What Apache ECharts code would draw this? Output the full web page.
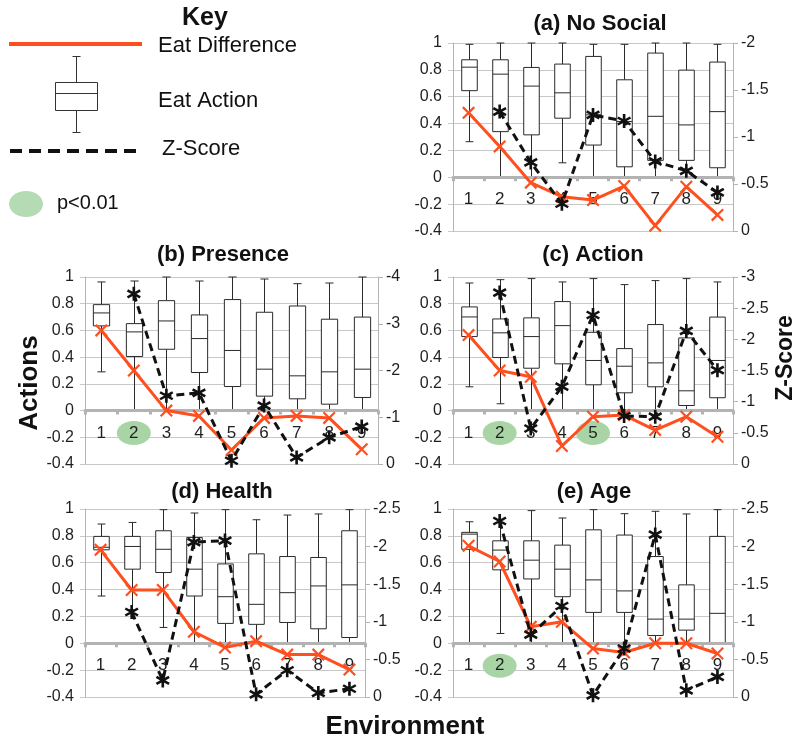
<!DOCTYPE html>
<html>
<head>
<meta charset="utf-8">
<script src="https://cdn.jsdelivr.net/npm/echarts@6/dist/echarts.min.js"></script>
<style>
  html, body { margin: 0; padding: 0; background: #fff; }
  #chart { width: 796px; height: 745px; }
</style>
</head>
<body>
<div id="chart"></div>
<script>
// Environments 1..9 on every panel
const categories = ['1', '2', '3', '4', '5', '6', '7', '8', '9'];

// Eat Action box plots: [min, Q1, median, Q3, max] per environment
const boxNoSocial = [
  [0.265, 0.645, 0.82, 0.875, 0.99], [0, 0.34, 0.768, 0.875, 1], [0, 0.316, 0.679, 0.818, 1],
  [0.108, 0.44, 0.629, 0.843, 1], [0, 0.24, 0.465, 0.90, 0.99], [0, 0.078, 0.415, 0.726, 0.99],
  [0, 0.126, 0.454, 0.925, 1], [0, 0.126, 0.39, 0.798, 1], [0, 0.071, 0.489, 0.858, 0.99]
];
const boxPresence = [
  [0.29, 0.634, 0.731, 0.793, 0.963], [0, 0.405, 0.589, 0.651, 0.97], [0, 0.459, 0.671, 0.823, 1],
  [0, 0.285, 0.539, 0.716, 0.97], [0, 0.18, 0.45, 0.831, 1], [0, 0.108, 0.31, 0.736, 0.985],
  [0, 0.088, 0.26, 0.783, 0.95], [0, 0.048, 0.29, 0.684, 0.955], [0, 0.098, 0.31, 0.70, 1]
];
const boxAction = [
  [0.178, 0.554, 0.701, 0.776, 0.955], [0.051, 0.397, 0.582, 0.686, 0.98], [0, 0.317, 0.554, 0.694, 0.988],
  [0, 0.35, 0.636, 0.816, 0.963], [0, 0.193, 0.375, 0.586, 0.988], [0, 0.133, 0.332, 0.464, 0.943],
  [0, 0.178, 0.357, 0.644, 0.973], [0, 0.038, 0.148, 0.544, 0.988], [0, 0.096, 0.375, 0.70, 0.963]
];
const boxHealth = [
  [0.352, 0.696, 0.715, 0.796, 0.888], [0.25, 0.552, 0.721, 0.796, 0.90], [0.118, 0.527, 0.70, 0.838, 0.995],
  [0, 0.352, 0.552, 0.788, 0.97], [0, 0.148, 0.347, 0.591, 0.995], [0, 0.141, 0.29, 0.666, 0.92],
  [0, 0.155, 0.377, 0.646, 0.955], [0, 0.108, 0.427, 0.639, 0.963], [0, 0.043, 0.435, 0.838, 0.995]
];
const boxAge = [
  [0, 0.70, 0.813, 0.826, 0.905], [0.073, 0.547, 0.694, 0.763, 0.92], [0, 0.479, 0.619, 0.763, 0.988],
  [0, 0.347, 0.552, 0.731, 0.933], [0, 0.23, 0.472, 0.845, 0.995], [0, 0.23, 0.39, 0.806, 0.965],
  [0, 0.058, 0.18, 0.646, 0.983], [0, 0.098, 0.18, 0.435, 0.963], [0, 0.006, 0.223, 0.796, 0.995]
];

// Eat Difference (left axis)
const eatNoSocial = [0.48, 0.23, -0.04, -0.145, -0.17, -0.065, -0.36, -0.07, -0.28];
const eatPresence = [0.60, 0.30, 0.0, -0.04, -0.295, -0.055, -0.04, -0.055, -0.29];
const eatAction   = [0.565, 0.30, 0.253, -0.265, -0.046, -0.034, -0.146, -0.046, -0.196];
const eatHealth   = [0.696, 0.397, 0.397, 0.086, -0.031, 0.016, -0.084, -0.084, -0.196];
const eatAge      = [0.726, 0.609, 0.123, 0.16, -0.039, -0.069, 0, 0, -0.076];

// Z-Score (right axis, inverted); no value for environment 1
const zNoSocial = [null, -1.27, -0.73, -0.29, -1.235, -1.17, -0.74, -0.64, -0.41];
const zPresence = [null, -3.64, -1.46, -1.52, -0.07, -1.25, -0.14, -0.57, -0.80];
const zAction   = [null, -2.75, -0.57, -1.24, -2.39, -0.77, -0.76, -2.135, -1.505];
const zHealth   = [null, -1.13, -0.22, -2.06, -2.08, -0.036, -0.356, -0.054, -0.11];
const zAge      = [null, -2.34, -0.83, -1.21, -0.022, -0.645, -2.16, -0.089, -0.267];

// Environments with p<0.01
const sigNoSocial = [];
const sigPresence = ['2'];
const sigAction   = ['2', '5'];
const sigHealth   = [];
const sigAge      = ['2'];

// Axis ranges
const Y_MIN = -0.4, Y_MAX = 1, Y_STEP = 0.2;
const zMinNoSocial = -2, zStepNoSocial = 0.5;
const zMinPresence = -4, zStepPresence = 1;
const zMinAction = -3, zStepAction = 0.5;
const zMinHealth = -2.5, zStepHealth = 0.5;
const zMinAge = -2.5, zStepAge = 0.5;

const FONT = "'Liberation Sans', Arial, sans-serif";
const RED = '#ff4f1f';
const GREEN = '#a9d5a6';
const AXIS_GRAY = '#b3b3b3';
const TEXT = '#1f1f1f';

const X_PATH = 'path://M0,1.2L1.2,0L10,8.8L8.8,10Z M8.8,0L10,1.2L1.2,10L0,8.8Z';
const STAR_PATH = 'path://M4.1,0L5.9,0L5.9,10L4.1,10Z M0.22,3.28L1.12,1.72L9.78,6.72L8.88,8.28Z M1.12,8.28L0.22,6.72L8.88,1.72L9.78,3.28Z';

const panels = [
  { title: '(a) No Social', tx: 600, ty: 24, grid: { left: 453, top: 43, width: 280, height: 188 },
    box: boxNoSocial, eat: eatNoSocial, z: zNoSocial, sig: sigNoSocial, zMin: zMinNoSocial, zStep: zStepNoSocial },
  { title: '(b) Presence', tx: 223, ty: 255, grid: { left: 85, top: 277, width: 293, height: 187 },
    box: boxPresence, eat: eatPresence, z: zPresence, sig: sigPresence, zMin: zMinPresence, zStep: zStepPresence },
  { title: '(c) Action', tx: 593, ty: 255, grid: { left: 453, top: 277, width: 280, height: 187 },
    box: boxAction, eat: eatAction, z: zAction, sig: sigAction, zMin: zMinAction, zStep: zStepAction },
  { title: '(d) Health', tx: 222, ty: 492, grid: { left: 85, top: 509, width: 280, height: 188 },
    box: boxHealth, eat: eatHealth, z: zHealth, sig: sigHealth, zMin: zMinHealth, zStep: zStepHealth },
  { title: '(e) Age', tx: 594, ty: 492, grid: { left: 453, top: 509, width: 280, height: 188 },
    box: boxAge, eat: eatAge, z: zAge, sig: sigAge, zMin: zMinAge, zStep: zStepAge }
];

// Box-and-whisker glyph drawn through the axis scales
function renderBox(params, api) {
  const idx = api.value(0);
  const pMin = api.coord([idx, api.value(1)]);
  const pQ1 = api.coord([idx, api.value(2)]);
  const pMed = api.coord([idx, api.value(3)]);
  const pQ3 = api.coord([idx, api.value(4)]);
  const pMax = api.coord([idx, api.value(5)]);
  const band = api.size([1, 0])[0];
  const bw = band * 0.5, cw = band * 0.25;
  const cx = Math.round(pMin[0]) + 0.5;
  const st = { stroke: '#2a2a2a', lineWidth: 1 };
  const ln = (x1, y1, x2, y2) => ({ type: 'line', shape: { x1, y1, x2, y2 }, style: st });
  return {
    type: 'group',
    children: [
      ln(cx, pMax[1], cx, pQ3[1]),
      ln(cx, pQ1[1], cx, pMin[1]),
      ln(cx - cw / 2, pMax[1], cx + cw / 2, pMax[1]),
      ln(cx - cw / 2, pMin[1], cx + cw / 2, pMin[1]),
      { type: 'rect', shape: { x: cx - bw / 2, y: pQ3[1], width: bw, height: pQ1[1] - pQ3[1] },
        style: { fill: '#fff', stroke: '#2a2a2a', lineWidth: 1 } },
      ln(cx - bw / 2, pMed[1], cx + bw / 2, pMed[1])
    ]
  };
}

// Significance ellipse behind the environment label
const LABEL_MARGIN = 14, LABEL_SIZE = 17;
const LABEL_DROP = LABEL_MARGIN + LABEL_SIZE / 2;
function renderSig(params, api) {
  const p = api.coord([api.value(0), api.value(1)]);
  return {
    type: 'ellipse',
    shape: { cx: p[0], cy: p[1] + LABEL_DROP, rx: 17, ry: 12 },
    style: { fill: GREEN }
  };
}

const grids = [], xAxes = [], yAxes = [], series = [];
panels.forEach((p, i) => {
  grids.push(Object.assign({}, p.grid));
  // category axis sits on the zero line of the left value axis
  const zeroLift = p.grid.height * (0 - Y_MIN) / (Y_MAX - Y_MIN);
  xAxes.push({
    type: 'category', gridIndex: i, data: categories, z: 3, position: 'bottom', offset: -zeroLift,
    axisLine: { onZero: false, lineStyle: { color: AXIS_GRAY, width: 3 } },
    axisTick: { show: true, length: 4, lineStyle: { color: AXIS_GRAY, width: 3 } },
    axisLabel: { fontFamily: FONT, fontSize: LABEL_SIZE, color: TEXT, margin: LABEL_MARGIN },
    splitLine: { show: false }
  });
  yAxes.push({
    type: 'value', gridIndex: i, position: 'left', min: Y_MIN, max: Y_MAX, interval: Y_STEP,
    axisLine: { show: true, lineStyle: { color: AXIS_GRAY } },
    axisTick: { show: true, length: 5, lineStyle: { color: '#c8c8c8' } },
    axisLabel: { fontFamily: FONT, fontSize: 16, color: TEXT, margin: 11 },
    splitLine: { show: true, lineStyle: { color: '#c8c8c8', width: 1 } }
  });
  yAxes.push({
    type: 'value', gridIndex: i, position: 'right', inverse: true, min: p.zMin, max: 0, interval: p.zStep,
    axisLine: { show: true, lineStyle: { color: AXIS_GRAY } },
    axisTick: { show: true, length: 5, lineStyle: { color: AXIS_GRAY } },
    axisLabel: { fontFamily: FONT, fontSize: 16, color: TEXT, margin: 8 },
    splitLine: { show: false }
  });
  if (p.sig.length) {
    series.push({
      type: 'custom', xAxisIndex: i, yAxisIndex: 2 * i, z: 1, silent: true,
      renderItem: renderSig, encode: { x: 0, y: 1 },
      data: p.sig.map(c => [categories.indexOf(c), 0])
    });
  }
  series.push({
    type: 'custom', xAxisIndex: i, yAxisIndex: 2 * i, z: 2, silent: true,
    renderItem: renderBox, encode: { x: 0, y: [1, 2, 3, 4, 5] },
    data: p.box.map((b, k) => [k].concat(b))
  });
  series.push({
    type: 'line', xAxisIndex: i, yAxisIndex: 2 * i, z: 4, data: p.eat,
    symbol: X_PATH, symbolSize: 13, showAllSymbol: true,
    lineStyle: { color: RED, width: 3 }, itemStyle: { color: RED, borderWidth: 0 }
  });
  series.push({
    type: 'line', xAxisIndex: i, yAxisIndex: 2 * i + 1, z: 5, data: p.z, connectNulls: false,
    symbol: STAR_PATH, symbolSize: 14, showAllSymbol: true,
    lineStyle: { color: '#111', width: 3, type: [8, 5] }, itemStyle: { color: '#111', borderWidth: 0 }
  });
});

const txt = (x, y, text, font, align, extra) => Object.assign({
  type: 'text', x, y, silent: true,
  style: { text, font, fill: '#111', textAlign: align || 'center', textVerticalAlign: 'middle' }
}, extra || {});

const graphic = [
  // panel titles
  ...panels.map(p => txt(p.tx, p.ty, p.title, "bold 22px " + FONT)),
  // shared axis titles
  txt(30, 383, 'Actions', "bold 26px " + FONT, 'center', { rotation: Math.PI / 2 }),
  txt(405, 727, 'Environment', "bold 26px " + FONT),
  txt(786, 358, 'Z-Score', "bold 23px " + FONT, 'center', { rotation: Math.PI / 2 }),
  // key
  txt(205, 18, 'Key', "bold 25px " + FONT),
  { type: 'line', silent: true, shape: { x1: 9, y1: 44, x2: 142, y2: 44 }, style: { stroke: RED, lineWidth: 4 } },
  txt(158, 46, 'Eat Difference', "22px " + FONT, 'left'),
  { type: 'line', silent: true, shape: { x1: 76.5, y1: 56, x2: 76.5, y2: 82 }, style: { stroke: '#333', lineWidth: 1 } },
  { type: 'line', silent: true, shape: { x1: 72.5, y1: 56.5, x2: 80.5, y2: 56.5 }, style: { stroke: '#333', lineWidth: 1 } },
  { type: 'rect', silent: true, shape: { x: 55.5, y: 82.5, width: 42, height: 28 }, style: { fill: '#fff', stroke: '#333', lineWidth: 1 } },
  { type: 'line', silent: true, shape: { x1: 55.5, y1: 93.5, x2: 97.5, y2: 93.5 }, style: { stroke: '#333', lineWidth: 1 } },
  { type: 'line', silent: true, shape: { x1: 76.5, y1: 110.5, x2: 76.5, y2: 132 }, style: { stroke: '#333', lineWidth: 1 } },
  { type: 'line', silent: true, shape: { x1: 72.5, y1: 132.5, x2: 80.5, y2: 132.5 }, style: { stroke: '#333', lineWidth: 1 } },
  txt(158, 101, 'Eat Action', "22px " + FONT, 'left'),
  { type: 'line', silent: true, shape: { x1: 10, y1: 151, x2: 136, y2: 151 }, style: { stroke: '#111', lineWidth: 4, lineDash: [12, 7] } },
  txt(162, 149, 'Z-Score', "22px " + FONT, 'left'),
  { type: 'ellipse', silent: true, shape: { cx: 26, cy: 204, rx: 17, ry: 13 }, style: { fill: '#b5dbb4' } },
  txt(57, 203, 'p<0.01', "20px " + FONT, 'left')
];

const chart = echarts.init(document.getElementById('chart'), null, { renderer: 'canvas' });
chart.setOption({
  animation: false,
  backgroundColor: '#fff',
  grid: grids,
  xAxis: xAxes,
  yAxis: yAxes,
  series: series,
  graphic: graphic
});
</script>
</body>
</html>
